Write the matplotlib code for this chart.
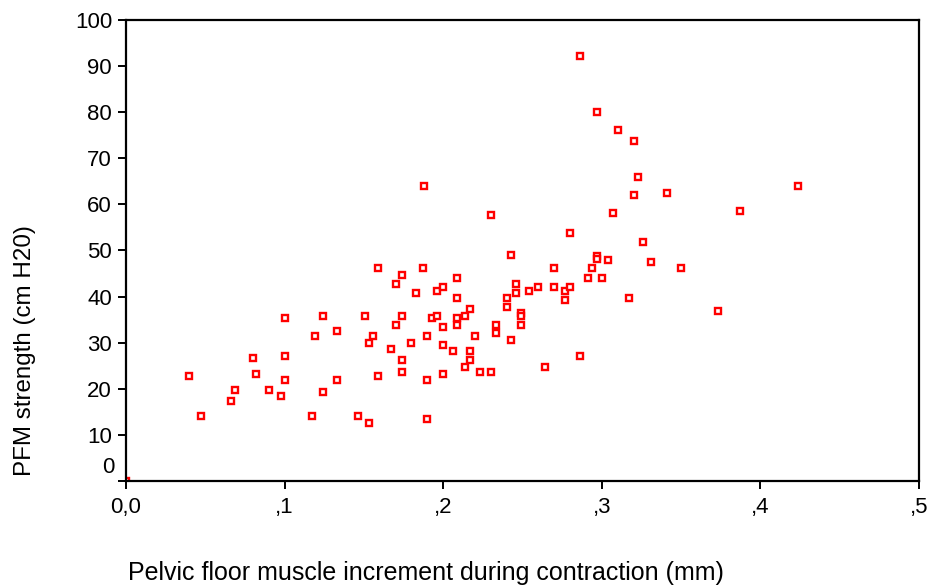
import numpy as np
import matplotlib
matplotlib.use('Agg')
import matplotlib.pyplot as plt

# values
increment_mm = [0.040, 0.047, 0.066, 0.069, 0.080, 0.082, 0.090, 0.098, 0.100, 0.100,
                0.100, 0.117, 0.119, 0.124, 0.124, 0.133, 0.133, 0.146, 0.151, 0.153,
                0.153, 0.156, 0.159, 0.159, 0.167, 0.170, 0.170, 0.174, 0.174, 0.174,
                0.174, 0.180, 0.183, 0.187, 0.188, 0.190, 0.190, 0.190, 0.193, 0.196,
                0.196, 0.200, 0.200, 0.200, 0.200, 0.206, 0.209, 0.209, 0.209, 0.209,
                0.214, 0.214, 0.217, 0.217, 0.217, 0.220, 0.223, 0.230, 0.230, 0.233,
                0.233, 0.240, 0.240, 0.243, 0.243, 0.246, 0.246, 0.249, 0.249, 0.249,
                0.254, 0.260, 0.264, 0.270, 0.270, 0.277, 0.277, 0.280, 0.280, 0.286,
                0.286, 0.291, 0.294, 0.297, 0.297, 0.297, 0.300, 0.304, 0.307, 0.310,
                0.317, 0.320, 0.320, 0.323, 0.326, 0.331, 0.341, 0.350, 0.373, 0.387,
                0.424, 0.0]
pfm_strength = [22.7, 14.0, 17.4, 19.8, 26.6, 23.3, 19.8, 18.4, 35.4, 27.1,
                21.8, 14.0, 31.5, 35.8, 19.4, 32.5, 21.8, 14.0, 35.8, 30.0,
                12.6, 31.5, 46.1, 22.8, 28.6, 42.7, 33.9, 44.6, 35.8, 26.2,
                23.7, 30.0, 40.7, 46.1, 64.0, 31.5, 21.8, 13.5, 35.4, 41.2,
                35.8, 42.1, 33.4, 29.5, 23.3, 28.1, 44.1, 39.8, 35.4, 33.9,
                35.8, 24.7, 37.3, 28.1, 26.2, 31.5, 23.7, 23.7, 57.7, 33.9,
                32.0, 39.8, 37.8, 49.0, 30.6, 42.7, 40.7, 36.4, 35.8, 33.9,
                41.2, 42.1, 24.7, 46.1, 42.1, 41.2, 39.3, 42.1, 53.8, 92.2,
                27.1, 44.1, 46.1, 80.0, 48.7, 48.2, 44.1, 48.0, 58.2, 76.1,
                39.8, 73.7, 62.0, 65.9, 51.8, 47.5, 62.5, 46.1, 36.8, 58.6,
                64.0, 0.0]

x_ticks = [0.0, 0.1, 0.2, 0.3, 0.4, 0.5]
x_labels = ['0,0', ',1', ',2', ',3', ',4', ',5']
y_ticks = [0, 10, 20, 30, 40, 50, 60, 70, 80, 90, 100]

plt.rcParams['font.family'] = ['Liberation Sans', 'DejaVu Sans']

fig = plt.figure(figsize=(9.31, 5.88), dpi=100)
ax = fig.add_axes([0.1353, 0.182, 0.8518, 0.784])

ax.plot(increment_mm, pfm_strength, linestyle='none', marker='s', markersize=3.8,
        markerfacecolor='white', markeredgecolor='#ff0000', markeredgewidth=1.7)

ax.set_xlim(0, 0.5)
ax.set_ylim(0, 100)
ax.set_xticks(x_ticks)
ax.set_xticklabels(x_labels)
ax.set_yticks(y_ticks)
ax.set_yticklabels([''] + [str(v) for v in y_ticks[1:]])

for s in ax.spines.values():
    s.set_linewidth(1.6)
    s.set_color('black')
ax.tick_params(direction='out', length=6, width=1.4, labelsize=16, colors='black')
ax.tick_params(axis='x', pad=5.5)
ax.tick_params(axis='y', pad=4)

# SPSS puts the "0" label a little above its tick
ax.annotate('0', xy=(0, 0), xycoords=('axes fraction', 'data'), xytext=(-11, 13),
            textcoords='offset pixels', ha='right', va='center', fontsize=16)

fig.text(0.027, 0.403, 'PFM strength (cm H20)', rotation=90, ha='center', va='center',
         fontsize=17.4)
fig.text(0.458, 0.025, 'Pelvic floor muscle increment during contraction (mm)',
         ha='center', va='center', fontsize=18)

fig.savefig('out.png', dpi=100)
